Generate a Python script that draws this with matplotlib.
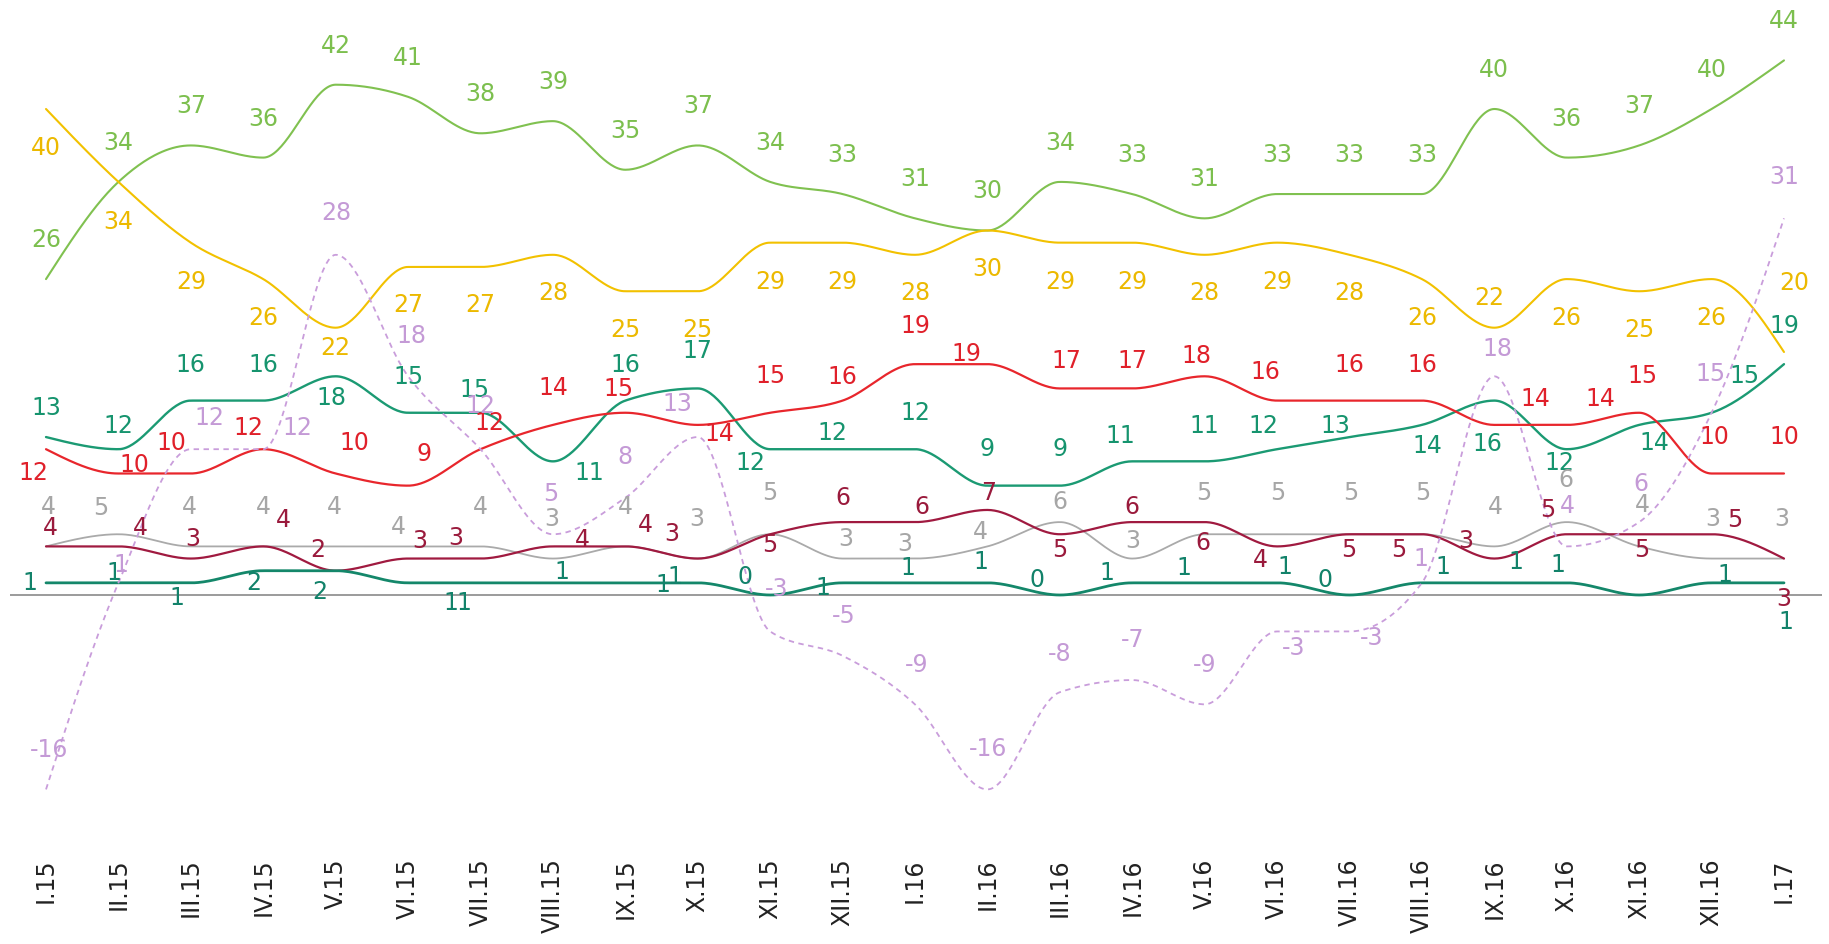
import numpy as np
import matplotlib
matplotlib.use("Agg")
import matplotlib.pyplot as plt

months = ["I.15", "II.15", "III.15", "IV.15", "V.15", "VI.15", "VII.15", "VIII.15",
          "IX.15", "X.15", "XI.15", "XII.15", "I.16", "II.16", "III.16", "IV.16",
          "V.16", "VI.16", "VII.16", "VIII.16", "IX.16", "X.16", "XI.16", "XII.16", "I.17"]

green = [26, 34, 37, 36, 42, 41, 38, 39, 35, 37, 34, 33, 31, 30, 34, 33, 31, 33, 33, 33, 40, 36, 37, 40, 44]
yellow = [40, 34, 29, 26, 22, 27, 27, 28, 25, 25, 29, 29, 28, 30, 29, 29, 28, 29, 28, 26, 22, 26, 25, 26, 20]
teal = [13, 12, 16, 16, 18, 15, 15, 11, 16, 17, 12, 12, 12, 9, 9, 11, 11, 12, 13, 14, 16, 12, 14, 15, 19]
red = [12, 10, 10, 12, 10, 9, 12, 14, 15, 14, 15, 16, 19, 19, 17, 17, 18, 16, 16, 16, 14, 14, 15, 10, 10]
darkred = [4, 4, 3, 4, 2, 3, 3, 4, 4, 3, 5, 6, 6, 7, 5, 6, 6, 4, 5, 5, 3, 5, 5, 5, 3]
gray = [4, 5, 4, 4, 4, 4, 4, 3, 4, 3, 5, 3, 3, 4, 6, 3, 5, 5, 5, 5, 4, 6, 4, 3, 3]
purple = [-16, 1, 12, 12, 28, 18, 12, 5, 8, 13, -3, -5, -9, -16, -8, -7, -9, -3, -3, 1, 18, 4, 6, 15, 31]
darkteal = [1, 1, 1, 2, 2, 1, 1, 1, 1, 1, 0, 1, 1, 1, 0, 1, 1, 1, 0, 1, 1, 1, 0, 1, 1]

# ---- label placement (pixel offsets; positive dy = above) ----
green_dy = [39] * 25
green_dx = [0] * 25
yellow_dy = [-39, -40, -39, -39, -20, -38, -38, -38, -39, -39, -39, -39, -38, -38, -39, -39, -38, -39,
             -38, -39, 30, -39, -39, -39, 69]
yellow_dx = [0] * 20 + [-5, 0, 0, 0, 10]
teal_dy = [29, 23, 36, 36, -22, 36, 23, -12, 36, 37, -14, 16, 36, 37, 37, 25, 35, 23, 11, -21, -43, -14, -18, 37, 38]
teal_dx = [0, 0, 0, 0, -4, 0, -6, 36, 0, 0, -20, -10, 0, 0, 0, -12, 0, -14, -14, 5, -7, -7, 15, 33, 0]
red_dy = [-24, 9, 30, 21, 30, 32, 26, 37, 24, -9, 37, 24, 38, 10, 27, 27, 20, 29, 36, 36, 26, 26, 37, 37, 37]
red_dx = [-13, 16, -19, -15, 19, 16, 9, 0, -7, 22, 0, 0, 0, -21, 7, 0, -8, -12, 0, 0, 41, 34, 3, 3, 0]
darkred_dy = [18, 18, 20, 26, 21, 18, 21, 6, 21, 25, -11, 24, 15, 17, -16, 15, -21, -14, -16, -16, 18, 24, -16, 14, -40]
darkred_dx = [4, 22, 2, 20, -18, 12, -25, 29, 20, -26, 0, 0, 7, 1, 0, 0, -2, -17, -1, -23, -29, -19, 3, 23, 0]
gray_dy = [39, 26, 39, 39, 39, 19, 39, 40, 39, 40, 41, 20, 15, 14, 20, 18, 41, 41, 41, 41, 39, 42, 41, 40, 40]
gray_dx = [2, -18, -1, 0, -1, -10, 0, -1, 0, -1, 0, 3, -10, -7, 0, 1, -1, 1, 1, 1, 1, -1, 3, 1, -2]
purple_dy = [39, 18, 31, 21, 42, 40, 43, 40, 41, 33, 42, 40, 39, 40, 38, 40, 39, -17, -7, 24, 27, 40, 38, 39, 41]
purple_dx = [3, 2, 19, 34, 1, 3, 0, -2, 0, -20, 6, 1, 2, 1, 0, 0, 0, 17, 22, -1, 3, 1, 2, -1, 0]
darkteal_dy = [0, 10, -15, -12, -21, -20, -20, 11, -2, 6, 18, -5, 15, 21, 15, 10, 15, 16, 15, 16, 21, 18, None, 8, -39]
darkteal_dx = [-16, -5, -14, -10, -16, 43, -17, 9, 38, -23, -25, -20, -7, -7, -23, -25, -21, 8, -24, 21, 22, -9, 0, 13, 2]

series = [
    (green, "#80c150", "#7cbf4e", "-", 1.5, green_dx, green_dy),
    (yellow, "#f2c100", "#ecb900", "-", 1.5, yellow_dx, yellow_dy),
    (teal, "#1b9a73", "#16946e", "-", 1.7, teal_dx, teal_dy),
    (red, "#e8262c", "#e0202a", "-", 1.6, red_dx, red_dy),
    (gray, "#aaaaaa", "#a6a6a6", "-", 1.3, gray_dx, gray_dy),
    (darkred, "#a01a40", "#9a1a3c", "-", 1.6, darkred_dx, darkred_dy),
    (darkteal, "#14876a", "#12826a", "-", 2.0, darkteal_dx, darkteal_dy),
    (purple, "#c99ddb", "#c49ad6", (0, (3, 2.5)), 1.3, purple_dx, purple_dy),
]


def monotone_curve(vals, n=40):
    y = np.asarray(vals, float)
    s = np.diff(y)
    m = np.zeros_like(y)
    for i in range(1, len(y) - 1):
        s0, s1 = s[i - 1], s[i]
        p = (s0 + s1) / 2.0
        m[i] = (np.sign(s0) + np.sign(s1)) * min(abs(s0), abs(s1), 0.5 * abs(p))
    m[0] = (3 * s[0] - m[1]) / 2.0
    m[-1] = (3 * s[-1] - m[-2]) / 2.0
    t = np.linspace(0, 1, n, endpoint=False)
    h00 = 2 * t**3 - 3 * t**2 + 1
    h10 = t**3 - 2 * t**2 + t
    h01 = -2 * t**3 + 3 * t**2
    h11 = t**3 - t**2
    xs, ys = [], []
    for i in range(len(y) - 1):
        xs.append(i + t)
        ys.append(h00 * y[i] + h10 * m[i] + h01 * y[i + 1] + h11 * m[i + 1])
    xs.append([len(y) - 1])
    ys.append([y[-1]])
    return np.concatenate(xs), np.concatenate(ys)


plt.rcParams["font.family"] = ["DejaVu Sans"]
W, H = 1829, 944
fig = plt.figure(figsize=(W / 100, H / 100), dpi=100)
ax = fig.add_axes([10 / W, (H - 850) / H, (1822 - 10) / W, 850 / H])
px_month = 72.4
px_unit = 12.15
ax.set_xlim(-(46 - 10) / px_month, 24 + (1822 - 1784) / px_month)
ax.set_ylim(-(850 - 595) / px_unit, 595 / px_unit)
for sp in ax.spines.values():
    sp.set_visible(False)
ax.set_yticks([])
ax.set_xticks(range(len(months)))
ax.set_xticklabels(months, rotation=90, fontsize=17, color="#222222")
ax.tick_params(axis="x", length=0, pad=6)
ax.axhline(0, color="#8a8a8a", lw=1.2, zorder=1)

x = np.arange(len(months))
for vals, lc, tc, ls, lw, dxs, dys in series:
    cx, cy = monotone_curve(vals)
    ax.plot(cx, cy, color=lc, lw=lw, ls=ls, zorder=2, solid_capstyle="round")

for vals, lc, tc, ls, lw, dxs, dys in series:
    for i, v in enumerate(vals):
        if dys[i] is None:
            continue
        ax.annotate(str(v), (x[i], v), xytext=(dxs[i], dys[i]), textcoords="offset pixels",
                    ha="center", va="center", fontsize=17, color=tc, zorder=3,
                    annotation_clip=False)

fig.savefig("out.png", dpi=100)
